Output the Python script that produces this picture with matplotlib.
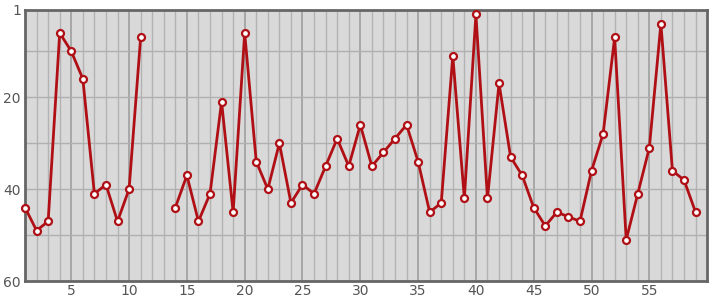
#!/usr/bin/env python3

import numpy as np
import matplotlib
matplotlib.use("Agg")
import matplotlib.pyplot as plt

# positions 1..59, NaN where there is no value
positions = list(range(1, 60))
ranks = [44, 49, 47, 6, 10, 16, 41, 39, 47, 40,
         7, np.nan, np.nan, 44, 37, 47, 41, 21, 45, 6,
         34, 40, 30, 43, 39, 41, 35, 29, 35, 26,
         35, 32, 29, 26, 34, 45, 43, 11, 42, 2,
         42, 17, 33, 37, 44, 48, 45, 46, 47, 36,
         28, 7, 51, 41, 31, 4, 36, 38, 45]
x_ticks = [5, 10, 15, 20, 25, 30, 35, 40, 45, 50, 55]
y_ticks = [1, 20, 40, 60]
y_grid = [10, 20, 30, 40, 50]


def main():
    fig = plt.figure(figsize=(7.15, 3.0), dpi=100)
    ax = fig.add_axes([0.035, 0.063, 0.954, 0.904])
    ax.set_facecolor("#d9d9d9")

    ax.set_xlim(1, 60)
    ax.set_ylim(60, 1)

    ax.set_xticks(x_ticks)
    ax.set_yticks(y_ticks)

    ax.grid(False)
    for x in positions:
        ax.axvline(x, color="#9a9a9a" if x % 5 == 0 else "#b3b3b3",
                   lw=1.1 if x % 5 == 0 else 1.0, zorder=1)
    for y in y_grid:
        ax.axhline(y, color="#b0b0b0", lw=1.0, zorder=1)

    ax.plot(positions, ranks, color="#b01015", lw=2, marker="o",
            markersize=5, markerfacecolor="white", markeredgecolor="#b01015",
            markeredgewidth=1.6, zorder=3, clip_on=False)

    ax.tick_params(which="both", length=0, labelsize=10, colors="#555555")
    ax.tick_params(axis="x", pad=2)
    ax.tick_params(axis="y", pad=3)
    for s in ax.spines.values():
        s.set_color("#666666")
        s.set_linewidth(2)

    plt.savefig("out.png", dpi=100)


if __name__ == "__main__":
    main()
